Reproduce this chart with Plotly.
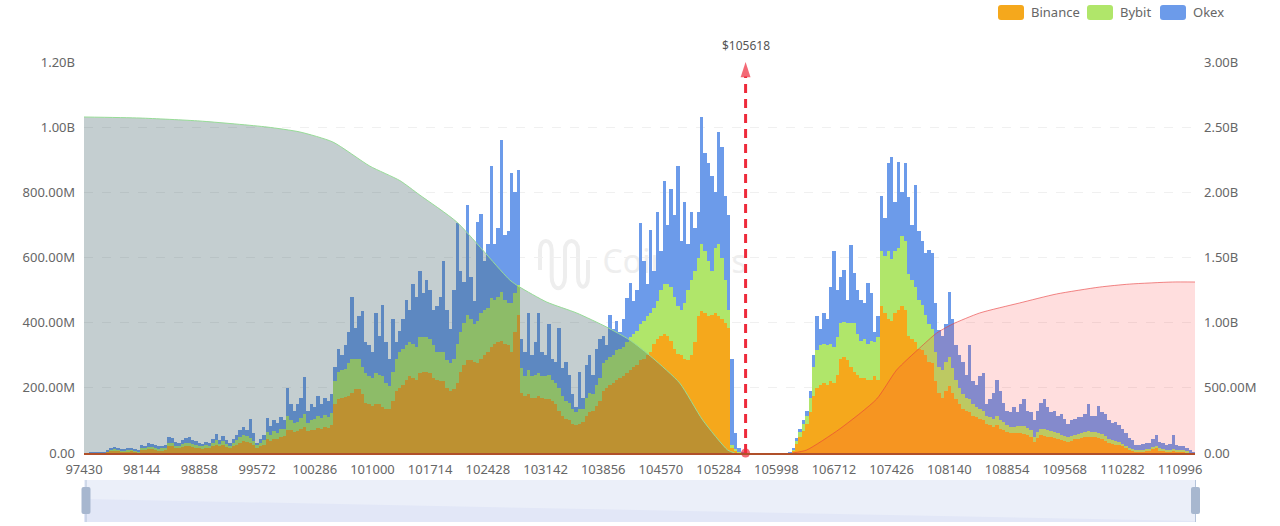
import plotly.graph_objects as go

# liquidation leverage per price bucket, in millions
binance = [
    0,0,0,0,0,0,1,4,7,8,7,5,5,6,7,6,3,
    10,10,12,12,10,8,9,10,20,20,15,14,18,20,20,18,16,
    14,13,16,15,20,26,20,24,18,15,20,26,32,36,34,30,26,
    16,20,26,42,36,44,42,50,52,72,70,64,66,74,80,66,72,
    72,78,74,80,78,85,150,165,170,172,175,185,195,195,180,155,150,
    145,150,150,140,135,135,160,190,200,210,225,235,230,225,245,250,250,
    245,230,225,220,220,200,190,195,215,250,270,285,285,280,275,290,300,
    310,325,335,340,345,335,330,310,370,425,185,175,180,170,170,175,170,
    165,165,160,150,130,115,105,100,90,85,90,95,115,125,130,145,160,
    190,200,210,215,225,230,235,245,255,265,270,285,290,300,310,335,350,
    360,365,360,345,320,305,300,290,285,300,340,420,435,430,420,425,430,
    420,410,400,385,15,8,2,1,0,0,0,0,0,0,0,0,0,
    0,0,0,0,1,8,28,50,68,90,125,175,200,210,215,210,220,
    215,240,290,295,285,265,250,240,230,230,225,225,235,225,450,430,410,
    405,430,440,450,440,360,350,340,320,315,300,280,275,220,185,170,190,
    205,185,165,150,135,130,125,115,110,105,100,90,85,80,85,75,70,
    65,60,60,62,60,58,55,50,35,45,55,52,50,48,45,42,40,
    38,35,38,42,44,46,48,50,48,48,45,42,38,32,28,26,24,
    20,16,10,8,5,5,6,7,8,12,14,9,7,6,6,7,6,
    6,5,3,1,0,
]
bybit = [
    0,0,0,0,0,0,0,2,4,5,4,3,3,4,4,3,2,
    6,5,7,7,6,5,5,6,12,11,8,8,9,11,11,9,8,
    7,7,8,8,10,14,9,12,10,8,10,13,17,20,18,15,12,
    8,10,14,22,18,22,20,24,22,42,30,28,30,34,40,26,30,
    32,36,32,36,34,38,70,85,85,85,100,105,95,95,85,90,85,
    85,95,90,95,80,70,90,100,110,110,105,105,105,100,110,105,105,
    105,100,85,90,90,85,85,95,120,120,130,140,125,115,130,140,140,
    135,150,135,140,150,135,130,150,120,90,75,60,75,65,70,70,65,
    70,75,65,65,70,60,55,55,45,40,45,40,55,60,50,65,70,
    85,85,85,85,90,90,90,95,100,100,105,110,115,120,120,110,115,
    140,155,160,165,160,145,140,170,215,230,220,180,205,190,170,135,200,
    220,190,130,55,10,4,2,0,0,0,0,0,0,0,0,0,0,
    0,0,0,0,0,4,10,15,20,25,45,90,115,120,120,120,115,
    110,115,110,108,115,135,148,125,115,120,110,120,105,130,170,175,210,
    190,190,190,215,210,190,180,170,150,140,125,115,105,90,80,85,90,
    90,75,60,50,45,40,40,35,32,30,30,25,25,25,28,25,24,
    22,20,20,20,22,24,22,20,15,18,20,22,20,20,18,18,16,
    15,14,14,14,15,16,16,18,16,16,16,15,14,12,12,11,10,
    9,7,5,4,3,3,4,5,5,7,8,6,5,4,4,5,4,
    3,3,2,1,0,
]
okex = [
    0,0,1,1,1,1,1,3,5,5,4,4,3,4,4,4,2,
    9,7,11,9,9,9,8,9,18,14,12,10,13,14,17,13,12,
    9,8,11,9,12,18,11,16,12,7,12,16,21,24,20,59,22,
    8,12,15,44,28,34,30,36,26,86,50,38,54,62,114,38,48,
    36,61,44,54,48,57,45,70,45,73,95,190,95,130,170,95,95,
    80,185,120,220,125,85,160,50,65,90,140,100,185,155,205,135,175,
    150,110,140,170,280,155,105,210,371,190,125,335,130,70,305,305,150,
    195,405,170,210,465,200,220,400,310,355,90,75,175,65,100,185,75,
    65,155,65,65,185,85,120,85,45,15,115,35,100,115,60,110,120,
    85,45,130,80,90,50,85,136,167,101,125,311,185,100,255,113,275,
    120,315,180,300,250,430,210,310,140,210,130,140,390,300,300,290,170,
    345,340,260,290,265,48,10,1,0,0,0,0,0,0,0,0,0,
    0,0,0,0,1,3,7,10,12,15,20,35,105,50,95,80,175,
    295,145,140,159,70,238,153,135,125,110,186,145,30,64,170,115,269,
    314,150,264,135,239,237,170,312,210,195,188,228,233,150,113,105,115,
    200,150,105,100,100,70,167,70,68,100,115,35,55,80,112,90,61,
    43,45,60,43,68,83,53,55,50,67,80,91,70,57,67,55,64,
    52,41,48,49,51,48,56,82,51,51,84,68,68,56,52,58,51,
    46,37,31,28,17,17,18,18,19,23,34,20,18,15,18,44,15,
    13,12,10,6,3,
]

first_price = 97430
price_step = 42
prices = [first_price + price_step * i for i in range(len(binance))]
axis_end = 111180
current_price = 105618

# cumulative curves on the right axis, in millions
long_x = [97430, 98123, 98865, 99694, 100102, 100510, 100968, 101339, 101586, 102044, 102700,
          102823, 103157, 103528, 103899, 104184, 104468, 104802, 105087, 105396, 105483]
long_y = [2578, 2570, 2547, 2501, 2463, 2386, 2201, 2090, 1979, 1772, 1327,
          1273, 1158, 1074, 966, 867, 729, 537, 253, 23, 0]
short_x = [106200, 106374, 106782, 107240, 107487, 107772, 107982, 108180, 108514,
           109008, 109466, 109998, 110369, 110901, 111180]
short_y = [0, 23, 184, 414, 637, 805, 920, 989, 1074, 1151, 1220, 1273, 1296, 1312, 1312]

x_ticks = [97430, 98144, 98858, 99572, 100286, 101000, 101714, 102428, 103142, 103856,
           104570, 105284, 105998, 106712, 107426, 108140, 108854, 109568, 110282, 110996]
left_ticks = [0, 200, 400, 600, 800, 1000, 1200]
left_labels = ['0.00', '200.00M', '400.00M', '600.00M', '800.00M', '1.00B', '1.20B']
right_ticks = [0, 500, 1000, 1500, 2000, 2500, 3000]
right_labels = ['0.00', '500.00M', '1.00B', '1.50B', '2.00B', '2.50B', '3.00B']

legend_names = ['Binance', 'Bybit', 'Okex']
legend_colors = ['#F5A81C', '#B0E66A', '#6C9BEA']
text_color = '#666666'
font = 'Noto Sans'

# plot area in page pixels
left, right, top, bottom = 84, 1195, 62, 453


def px(x):
    return (x - left) / (right - left)


def py(y):
    return (bottom - y) / (bottom - top)


def rounded(x0, y0, x1, y1, r):
    # rounded box in page pixels, as a paper path
    return (f'M{px(x0 + r)},{py(y0)} L{px(x1 - r)},{py(y0)} Q{px(x1)},{py(y0)} {px(x1)},{py(y0 + r)} '
            f'L{px(x1)},{py(y1 - r)} Q{px(x1)},{py(y1)} {px(x1 - r)},{py(y1)} '
            f'L{px(x0 + r)},{py(y1)} Q{px(x0)},{py(y1)} {px(x0)},{py(y1 - r)} '
            f'L{px(x0)},{py(y0 + r)} Q{px(x0)},{py(y0)} {px(x0 + r)},{py(y0)} Z')


fig = go.Figure()

# watermark sits on the bottom axes so the bars cover it
fig.add_trace(go.Scatter(x=[104740], y=[0.48], mode='text', text=['Coinglass'], yaxis='y',
                         textfont=dict(family=font, size=32, color='#EEEEEE'), hoverinfo='skip', showlegend=False))

for name, values, color in zip(legend_names, [binance, bybit, okex], legend_colors):
    fig.add_trace(go.Bar(x=prices, y=values, name=name, width=price_step, yaxis='y2',
                         marker=dict(color=color, line_width=0), showlegend=False))

fig.add_trace(go.Scatter(x=long_x, y=long_y, yaxis='y3', mode='lines', fill='tozeroy',
                         line=dict(color='#97DC97', width=1, shape='spline', smoothing=0.6),
                         fillcolor='rgba(58,92,98,0.3)', showlegend=False))
fig.add_trace(go.Scatter(x=short_x, y=short_y, yaxis='y3', mode='lines', fill='tozeroy',
                         line=dict(color='rgba(232,60,60,0.6)', width=1, shape='spline', smoothing=0.6),
                         fillcolor='rgba(255,60,60,0.17)', showlegend=False))

# current price arrow
fig.add_trace(go.Scatter(x=[current_price, current_price], y=[0, right_ticks[-1]], yaxis='y3', mode='lines+markers',
                         line=dict(color='#EE2A3A', width=3, dash='9px,6px'),
                         marker=dict(symbol=['circle', 'arrow'], size=[9, 16], color='#EE2A3A', line_width=0),
                         cliponaxis=False, showlegend=False))

shapes = [
    # coinglass logo
    dict(type='path', layer='below', xref='paper', yref='paper', xsizemode='pixel', ysizemode='pixel',
         xanchor=px(540), yanchor=py(270),
         path='M0,0 L0,20 C0,32 11.7,32 11.7,20 L11.7,-7 C11.7,-22 25,-22 25,-7 L25,20 C25,32 38,32 38,20 '
              'L38,-7 C38,-20 48,-20 48,-7 L48,10',
         line=dict(color='#EEEEEE', width=4)),
    # zoom slider
    dict(type='rect', xref='paper', yref='paper', x0=px(84), x1=px(1195), y0=py(480), y1=py(522),
         fillcolor='#EBEFF9', line_width=0),
    dict(type='path', xref='paper', yref='paper',
         path=f'M{px(84)},{py(499)} L{px(1195)},{py(521)} L{px(1195)},{py(522)} L{px(84)},{py(522)} Z',
         fillcolor='#E2E7F7', line_width=0),
]
for cx in [86, 1195.5]:
    shapes.append(dict(type='line', xref='paper', yref='paper', x0=px(cx), x1=px(cx), y0=py(480), y1=py(522),
                       line=dict(color='#B4C3DA', width=1)))
    shapes.append(dict(type='path', xref='paper', yref='paper', path=rounded(cx - 4.5, 487, cx + 4.5, 514, 2),
                       fillcolor='#A7B7CF', line_width=0))

annotations = [dict(x=current_price, y=1, xref='x', yref='paper', yshift=17, yanchor='middle',
                    text='$' + str(current_price), showarrow=False,
                    font=dict(family=font, size=12, color='#555555'))]

# legend drawn by hand for the wide rounded swatches
for x0, text_x, name, color in zip([998, 1087, 1160], [1029, 1118, 1191], legend_names, legend_colors):
    shapes.append(dict(type='path', xref='paper', yref='paper', path=rounded(x0, 5, x0 + 26, 20, 3),
                       fillcolor=color, line_width=0))
    annotations.append(dict(x=px(text_x), y=py(12), xref='paper', yref='paper', text=name, showarrow=False,
                            xanchor='left', yanchor='middle', font=dict(family=font, size=13, color=text_color)))

fig.update_layout(
    width=1280, height=526,
    margin=dict(l=left, r=1280 - right, t=top, b=526 - bottom),
    autosize=False,
    barmode='stack', bargap=0,
    plot_bgcolor='white', paper_bgcolor='white',
    font=dict(family=font, size=13, color=text_color),
    shapes=shapes, annotations=annotations,
    xaxis=dict(range=[first_price, axis_end], tickmode='array', tickvals=x_ticks, ticktext=[str(t) for t in x_ticks],
               ticks='', showgrid=False, zeroline=False, showline=True, linecolor='#B0502A', linewidth=2,
               layer='above traces', ticklabelstandoff=3),
    yaxis=dict(range=[0, 1], visible=False),
    yaxis2=dict(overlaying='y', side='left', range=[0, left_ticks[-1]], tickmode='array', tickvals=left_ticks,
                ticktext=left_labels, ticks='', showgrid=True, gridcolor='#F0F0F0', griddash='dash', zeroline=False,
                ticklabelstandoff=8),
    yaxis3=dict(overlaying='y', side='right', range=[0, right_ticks[-1]], tickmode='array', tickvals=right_ticks,
                ticktext=right_labels, ticks='', showgrid=False, zeroline=False, ticklabelstandoff=8),
)

# the page's default margin would push the whole chart by 8px
fig.write_html("out.html", config=dict(displayModeBar=False),
               post_script="document.body.style.margin = '0';")
